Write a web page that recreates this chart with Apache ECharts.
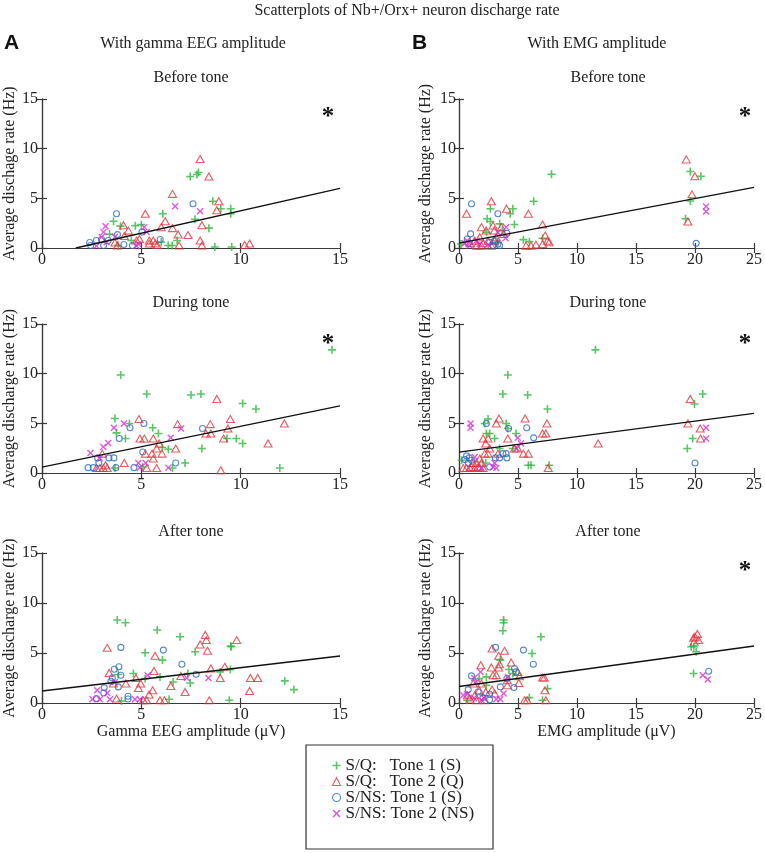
<!DOCTYPE html>
<html><head><meta charset="utf-8">
<script src="https://cdn.jsdelivr.net/npm/echarts@6/dist/echarts.min.js"></script>
<style>html,body{margin:0;padding:0;background:#fff}#c{width:765px;height:853px}</style>
</head><body><div id="c"></div>
<script>
// ---------------- DATA ----------------
const groupNames = ['S/Q:   Tone 1 (S)', 'S/Q:   Tone 2 (Q)', 'S/NS: Tone 1 (S)', 'S/NS: Tone 2 (NS)'];
const phaseTitles = ['Before tone', 'During tone', 'After tone'];
const columnTitles = ['With gamma EEG amplitude', 'With EMG amplitude'];
const xAxisNames = ['Gamma EEG amplitude (\u03bcV)', 'EMG amplitude (\u03bcV)'];
const yAxisNames = ['Average dischage rate (Hz)', 'Average discharge rate (Hz)'];
const xMaxes = [15, 25];
const yMax = 15;
const tickStep = 5;

// Before tone, gamma EEG
const beforeEEG_SQ1 = [[7.88,7.6],[7.8,7.4],[7.46,7.2],[8.6,4.7],[9.0,3.95],[9.5,3.95],[9.5,3.45],[7.7,2.9],[8.4,2.0],[6.08,3.45],[3.6,2.7],[3.95,2.2],[4.7,2.25],[5.0,2.35],[6.0,0.6],[6.35,0.25],[6.55,0.25],[6.8,0.75],[8.7,0.1],[9.55,0.1],[3.4,1.4],[3.84,0.25],[4.5,0.75]];
const beforeEEG_SQ2 = [[7.96,8.95],[8.4,7.2],[6.57,5.45],[8.9,4.7],[8.8,3.8],[5.2,3.45],[6.2,2.7],[8.05,2.3],[4.1,2.3],[4.35,1.75],[4.14,1.2],[6.57,2.0],[6.0,2.1],[6.85,1.35],[7.35,1.3],[7.96,0.75],[8.05,0.25],[6.9,0.25],[5.4,0.75],[5.4,0.45],[5.7,0.45],[5.8,0.3],[4.76,0.75],[4.9,0.9],[10.2,0.3],[10.45,0.45],[3.67,0.55],[3.8,0.25],[5.6,0.75]];
const beforeEEG_SNS1 = [[3.75,3.45],[7.6,4.45],[5.03,1.6],[5.95,0.85],[3.8,1.35],[4.12,0.35],[4.55,0.25],[2.4,0.55],[2.74,0.75],[3.0,0.85],[3.33,0.75],[2.45,0.25],[3.1,0.25]];
const beforeEEG_SNS2 = [[6.7,4.2],[7.96,3.7],[3.2,2.2],[3.1,1.6],[3.0,1.1],[5.15,2.1],[5.27,1.6],[4.85,0.4],[4.76,0.2],[2.74,0.2],[3.25,0.57],[3.67,1.1]];
const beforeEEG_fit = [[1.7,0],[15,6.0]];

// Before tone, EMG
const beforeEMG_SQ1 = [[7.84,7.43],[6.33,4.7],[4.56,3.95],[2.66,3.95],[4.34,3.45],[4.7,2.36],[2.38,2.94],[2.66,2.67],[3.45,2.43],[3.67,1.76],[5.46,0.84],[5.96,0.64],[7.08,0.98],[19.6,4.73],[19.2,2.94],[19.6,7.7],[20.5,7.23],[0.17,0.4],[3.3,0.57],[2.33,1.58]];
const beforeEMG_SQ2 = [[19.26,8.92],[19.99,7.23],[19.74,5.4],[19.4,2.67],[2.74,4.7],[0.64,3.45],[4.03,3.95],[5.88,3.45],[7.08,2.36],[7.3,1.25],[7.5,0.74],[7.64,0.57],[7.08,0.4],[6.52,0.34],[5.68,0.24],[6.1,0.24],[1.9,2.1],[2.3,1.76],[2.88,2.26],[3.0,1.76],[1.76,1.08],[1.34,0.74],[2.04,0.47],[2.46,0.74],[3.02,0.74],[3.16,1.08],[1.5,0.24],[1.9,0.24],[0.92,0.47],[2.74,0.24],[3.58,2.1],[3.78,1.4]];
const beforeEMG_SNS1 = [[1.06,4.45],[3.3,3.45],[4.06,1.49],[0.98,1.42],[0.7,0.9],[2.6,0.57],[3.02,0.74],[3.3,0.4],[2.88,0.24],[3.44,0.24],[20.1,0.47],[0.78,0.47]];
const beforeEMG_SNS2 = [[20.94,4.19],[20.94,3.68],[4.0,2.1],[3.95,0.98],[3.3,1.59],[0.5,0.47],[0.92,0.24],[1.76,0.4],[2.46,0.34],[1.48,0.74],[0.7,0.74]];
const beforeEMG_fit = [[0,0.5],[25,6.1]];

// During tone, gamma EEG
const duringEEG_SQ1 = [[14.6,12.4],[3.96,9.87],[5.27,7.95],[7.5,7.85],[8.0,7.95],[10.1,7.0],[10.77,6.44],[3.67,5.49],[4.4,4.99],[5.57,4.55],[5.86,3.98],[3.75,4.04],[4.2,3.47],[9.31,3.47],[9.78,3.47],[10.1,2.97],[8.05,2.46],[6.06,2.56],[6.36,2.39],[7.2,1.01],[11.97,0.5],[3.67,0.5],[6.57,0.5],[5.07,0.6]];
const duringEEG_SQ2 = [[8.8,7.45],[4.88,5.43],[6.83,4.92],[8.47,4.92],[9.48,5.43],[12.2,4.99],[9.36,4.48],[4.93,3.47],[5.15,3.47],[5.6,3.47],[8.25,3.98],[8.5,3.98],[9.14,3.47],[11.38,2.97],[6.73,2.46],[5.9,2.97],[5.77,2.46],[5.2,1.95],[5.54,1.95],[5.6,1.45],[6.04,1.95],[4.14,1.01],[3.03,1.95],[3.2,0.78],[2.91,0.5],[3.28,0.5],[2.74,0.5],[3.08,0.5],[5.27,0.5],[5.77,0.5],[9.0,0.27]];
const duringEEG_SNS1 = [[3.89,3.47],[4.43,4.55],[5.13,4.99],[8.08,4.48],[5.07,2.12],[6.73,1.01],[2.32,0.54],[2.58,0.54],[2.8,1.52],[2.86,1.01],[3.37,1.52],[3.62,1.52],[4.63,0.54],[3.72,0.54]];
const duringEEG_SNS2 = [[2.44,2.02],[3.08,2.63],[3.33,3.03],[3.62,4.55],[4.12,4.99],[6.48,3.54],[7.0,4.48],[6.36,0.54],[4.85,1.01],[5.22,1.01],[2.9,1.52],[4.93,0.54]];
const duringEEG_fit = [[0,0.6],[15,6.75]];

// During tone, EMG
const duringEMG_SQ1 = [[11.56,12.4],[4.14,9.87],[3.72,7.95],[5.82,7.85],[7.5,6.44],[20.66,7.95],[19.96,6.94],[19.8,3.47],[19.35,2.46],[2.46,5.43],[2.18,4.99],[4.0,4.99],[4.14,4.48],[4.84,3.98],[2.32,3.98],[2.6,3.98],[3.02,3.47],[3.44,2.46],[2.27,1.01],[5.88,0.78],[6.1,0.78],[7.64,0.78],[0.22,1.28],[4.56,2.46]];
const duringEMG_SQ2 = [[19.6,7.45],[19.4,4.99],[20.44,4.48],[20.47,3.47],[11.79,2.97],[3.39,5.49],[3.16,4.99],[5.6,5.49],[7.45,4.99],[7.08,3.98],[7.36,3.98],[2.04,3.47],[2.46,3.47],[4.14,3.47],[2.27,2.97],[2.6,2.46],[4.7,2.46],[4.98,2.46],[5.46,1.95],[5.88,1.95],[2.18,1.95],[2.46,1.95],[3.3,1.95],[1.76,1.45],[1.48,1.01],[1.62,0.6],[1.06,0.6],[0.64,0.5],[2.04,0.5],[0.36,0.5],[1.2,1.01],[1.9,1.01],[7.56,0.5],[0.92,0.5],[1.34,0.5],[1.76,0.5]];
const duringEMG_SNS1 = [[2.32,4.99],[4.2,4.48],[5.74,4.55],[6.33,3.54],[20.0,1.01],[0.64,1.72],[0.87,1.52],[0.78,1.01],[0.5,1.35],[1.06,1.28],[2.6,0.6],[3.44,1.52],[3.72,1.95],[4.0,1.95],[4.06,1.52],[3.08,1.52]];
const duringEMG_SNS2 = [[0.98,4.99],[0.98,4.55],[4.98,3.54],[4.9,2.46],[5.26,2.97],[20.94,4.55],[20.94,3.47],[1.34,1.62],[3.02,1.01],[2.88,0.6],[3.16,0.5],[1.9,0.5]];
const duringEMG_fit = [[0,2.1],[25,6.0]];

// After tone, gamma EEG
const afterEEG_SQ1 = [[3.79,8.3],[4.2,8.03],[5.8,7.3],[6.95,6.63],[7.71,5.12],[5.19,5.02],[6.06,4.29],[9.53,5.62],[9.5,5.7],[4.6,2.95],[5.94,2.61],[7.34,2.95],[7.46,2.0],[6.6,2.1],[5.19,2.44],[8.97,3.11],[9.48,3.35],[12.22,2.21],[12.68,1.34],[6.4,0.37],[9.43,0.27],[3.84,2.85],[4.0,0.2]];
const afterEEG_SQ2 = [[3.28,5.52],[5.69,4.72],[5.64,3.21],[8.22,6.8],[8.27,6.29],[7.96,5.86],[8.33,5.22],[9.8,6.29],[8.5,3.45],[9.2,3.62],[8.97,2.51],[10.49,2.51],[10.86,2.51],[10.45,1.2],[7.2,1.1],[8.42,0.27],[6.48,1.71],[6.99,2.71],[4.73,2.51],[4.22,1.94],[3.38,3.01],[3.59,1.94],[4.97,1.94],[4.85,1.51],[5.39,0.84],[5.57,1.27],[5.1,0.27],[5.27,0.27],[5.94,0.27],[6.16,0.27],[3.75,0.44]];
const afterEEG_SNS1 = [[3.97,5.56],[6.11,5.29],[7.04,3.88],[3.87,3.62],[3.64,3.38],[3.54,2.51],[3.47,2.18],[3.97,2.78],[3.84,1.61],[3.13,1.54],[3.11,1.0],[7.76,2.88],[4.33,0.67],[4.33,0.4],[2.74,0.44]];
const afterEEG_SNS2 = [[5.32,2.78],[7.29,2.51],[8.38,2.51],[2.78,1.27],[3.28,1.0],[2.54,0.37],[2.91,0.37],[3.42,0.37],[4.68,0.37],[4.93,0.37],[3.67,2.1]];
const afterEEG_fit = [[0,1.2],[15,4.7]];

// After tone, EMG
const afterEMG_SQ1 = [[3.78,8.3],[3.78,8.03],[3.72,7.23],[6.94,6.63],[6.19,4.95],[3.5,4.29],[19.68,5.62],[19.9,5.62],[20.1,5.12],[19.88,2.95],[4.23,3.35],[4.56,2.95],[2.32,2.61],[1.71,2.44],[7.5,1.44],[7.08,0.27],[5.96,0.54],[0.7,0.27],[2.32,1.77]];
const afterEMG_SQ2 = [[20.0,6.63],[20.2,6.9],[20.3,6.29],[19.93,6.13],[19.88,6.53],[2.8,5.46],[3.86,5.22],[3.36,4.72],[3.44,3.88],[4.42,4.05],[2.74,3.55],[3.36,3.55],[1.85,3.78],[2.88,2.78],[3.16,2.78],[4.98,3.11],[5.12,2.68],[5.07,2.01],[7.08,2.54],[7.22,2.54],[7.28,1.27],[7.36,0.27],[5.54,0.27],[5.77,0.27],[4.09,1.77],[4.09,2.28],[1.2,1.94],[1.9,1.94],[1.71,1.27],[1.34,0.77],[1.48,0.27],[2.27,1.1],[2.8,1.34],[3.02,0.94],[0.7,0.77],[0.92,0.44],[2.18,0.27]];
const afterEMG_SNS1 = [[3.1,5.56],[5.46,5.29],[6.3,3.88],[4.7,3.45],[4.84,3.11],[4.06,2.44],[4.65,1.54],[3.5,1.61],[1.06,2.71],[0.78,1.34],[1.62,1.1],[2.6,0.87],[2.6,0.33],[21.16,3.18],[2.04,0.54]];
const afterEMG_SNS2 = [[1.82,3.11],[1.29,2.51],[1.46,2.11],[0.36,0.77],[0.7,0.87],[1.26,0.5],[2.1,0.5],[3.16,0.37],[3.5,0.37],[3.78,0.94],[20.66,2.78],[21.08,2.34],[4.14,2.61],[1.9,0.27]];
const afterEMG_fit = [[0,1.65],[25,5.7]];

// panel order: [row][col]
const panelData = [
  [[beforeEEG_SQ1, beforeEEG_SQ2, beforeEEG_SNS1, beforeEEG_SNS2, beforeEEG_fit],
   [beforeEMG_SQ1, beforeEMG_SQ2, beforeEMG_SNS1, beforeEMG_SNS2, beforeEMG_fit]],
  [[duringEEG_SQ1, duringEEG_SQ2, duringEEG_SNS1, duringEEG_SNS2, duringEEG_fit],
   [duringEMG_SQ1, duringEMG_SQ2, duringEMG_SNS1, duringEMG_SNS2, duringEMG_fit]],
  [[afterEEG_SQ1, afterEEG_SQ2, afterEEG_SNS1, afterEEG_SNS2, afterEEG_fit],
   [afterEMG_SQ1, afterEMG_SQ2, afterEMG_SNS1, afterEMG_SNS2, afterEMG_fit]]
];
const significant = [[true, true], [true, true], [false, true]];

// ---------------- STYLE ----------------
const SERIF = '"Liberation Serif", "Times New Roman", serif';
const FS = 16;
const TXT = '#222';
const AX = '#3a3a3a';
const gridLeft = [42, 459];
const gridTop = [99, 324, 553];
const gridW = 298;
const gridH = 149;
const PLUS = 'path://M4,0H6V4H10V6H6V10H4V6H0V4H4Z';
const CROSS = 'path://M0,1.4L1.4,0L5,3.6L8.6,0L10,1.4L6.4,5L10,8.6L8.6,10L5,6.4L1.4,10L0,8.6L3.6,5Z';
const groupStyle = [
  {symbol: PLUS, symbolSize: 8, itemStyle: {color: '#2eb83e'}},
  {symbol: 'triangle', symbolSize: [8, 7], itemStyle: {color: 'rgba(255,255,255,0)', borderColor: '#e5333a', borderWidth: 1.1}},
  {symbol: 'circle', symbolSize: 6, itemStyle: {color: 'rgba(255,255,255,0)', borderColor: '#2c6cc2', borderWidth: 1.1}},
  {symbol: CROSS, symbolSize: 7, itemStyle: {color: '#d52fd5'}}
];

const grids = [], xAxes = [], yAxes = [], series = [], graphics = [];
const axisLine = {show: true, lineStyle: {color: AX, width: 1.2}};
const axisTick = {show: true, inside: true, length: 5, lineStyle: {color: AX, width: 1.2}};
const labelStyle = {fontFamily: SERIF, fontSize: FS, color: TXT};

for (let r = 0; r < 3; r++) {
  for (let c = 0; c < 2; c++) {
    const k = grids.length;
    grids.push({left: gridLeft[c], top: gridTop[r], width: gridW, height: gridH + (r === 2 ? 1 : 0)});
    const xBase = {gridIndex: k, type: 'value', min: 0, max: xMaxes[c], interval: tickStep,
      axisLine, axisTick, splitLine: {show: false}};
    xAxes.push(Object.assign({}, xBase, {position: 'bottom',
      axisLabel: Object.assign({margin: 4, showMinLabel: true, showMaxLabel: true}, labelStyle),
      name: r === 2 ? xAxisNames[c] : '', nameLocation: 'middle', nameGap: 19,
      nameTextStyle: {fontFamily: SERIF, fontSize: FS, color: TXT}}));
    xAxes.push(Object.assign({}, xBase, {position: 'top', axisLabel: {show: false}}));
    const yBase = {gridIndex: k, type: 'value', min: 0, max: yMax, interval: tickStep,
      axisLine, axisTick, splitLine: {show: false}};
    yAxes.push(Object.assign({}, yBase, {position: 'left',
      axisLabel: Object.assign({margin: c === 0 ? 4 : 3}, labelStyle),
      name: (r === 0 && c === 0) ? yAxisNames[0] : yAxisNames[1],
      nameLocation: 'middle', nameGap: c === 0 ? 19 : 25, nameRotate: 90,
      nameTextStyle: {fontFamily: SERIF, fontSize: FS, color: TXT}}));
    yAxes.push(Object.assign({}, yBase, {position: 'right', axisLabel: {show: false}}));

    const d = panelData[r][c];
    for (let g = 0; g < 4; g++) {
      series.push(Object.assign({
        type: 'scatter', name: groupNames[g], xAxisIndex: 2 * k, yAxisIndex: 2 * k,
        data: d[g], emphasis: {disabled: true}, z: 2 + g
      }, groupStyle[g]));
    }
    series.push({type: 'line', name: 'fit', xAxisIndex: 2 * k, yAxisIndex: 2 * k,
      data: d[4], symbol: 'none', silent: true, z: 10,
      lineStyle: {color: '#111', width: 1.3}});

    const cx = gridLeft[c] + gridW / 2;
    graphics.push({type: 'text', x: cx, y: gridTop[r] - 21,
      style: {text: phaseTitles[r], font: FS + 'px ' + SERIF, fill: TXT, align: 'center', verticalAlign: 'middle'}});
    if (significant[r][c]) {
      graphics.push({type: 'text', x: gridLeft[c] + gridW - 12, y: gridTop[r] + (r === 1 ? 21 : 19),
        style: {text: '*', font: 'bold 25px ' + SERIF, fill: '#111', align: 'center', verticalAlign: 'middle'}});
    }
  }
}

graphics.push({type: 'text', x: 407, y: 11,
  style: {text: 'Scatterplots of Nb+/Orx+ neuron discharge rate', font: FS + 'px ' + SERIF, fill: TXT, align: 'center', verticalAlign: 'middle'}});
graphics.push({type: 'text', x: 193, y: 44,
  style: {text: columnTitles[0], font: FS + 'px ' + SERIF, fill: TXT, align: 'center', verticalAlign: 'middle'}});
graphics.push({type: 'text', x: 597, y: 44,
  style: {text: columnTitles[1], font: FS + 'px ' + SERIF, fill: TXT, align: 'center', verticalAlign: 'middle'}});
graphics.push({type: 'text', x: 4, y: 43,
  style: {text: 'A', font: 'bold 21px "Liberation Sans", Arial, sans-serif', fill: '#111', align: 'left', verticalAlign: 'middle'}});
graphics.push({type: 'text', x: 412, y: 43,
  style: {text: 'B', font: 'bold 21px "Liberation Sans", Arial, sans-serif', fill: '#111', align: 'left', verticalAlign: 'middle'}});
// legend frame
graphics.push({type: 'rect', shape: {x: 306, y: 745, width: 187, height: 104}, z: 0,
  style: {fill: 'none', stroke: '#333', lineWidth: 1.2}});

const option = {
  animation: false,
  backgroundColor: '#fff',
  grid: grids,
  xAxis: xAxes,
  yAxis: yAxes,
  series: series,
  graphic: graphics,
  legend: {
    orient: 'vertical', left: 332, top: 757, height: 90,
    padding: 0,
    itemWidth: 8, itemHeight: 8, itemGap: -1,
    selectedMode: false,
    textStyle: {fontFamily: SERIF, fontSize: 17, color: TXT, lineHeight: 15},
    data: groupNames.map((n, g) => ({name: n, icon: groupStyle[g].symbol, itemStyle: groupStyle[g].itemStyle}))
  }
};
const chart = echarts.init(document.getElementById('c'), null, {renderer: 'canvas'});
chart.setOption(option);
</script>
</body></html>
